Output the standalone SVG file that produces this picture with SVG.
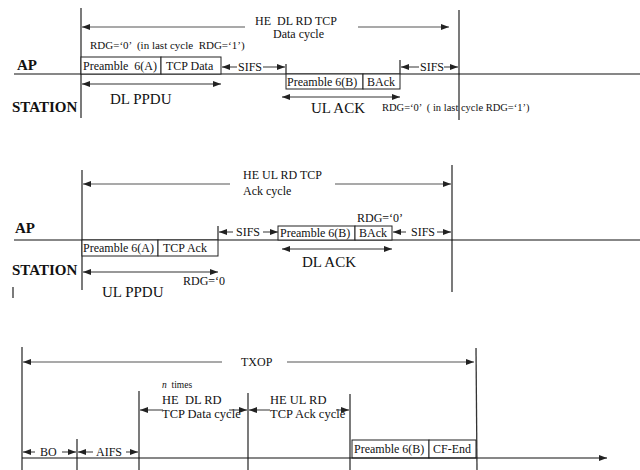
<svg xmlns="http://www.w3.org/2000/svg" width="640" height="470" viewBox="0 0 640 470" font-family="'Liberation Serif','Times New Roman',serif">
<style>
text{font-family:"Liberation Serif","Times New Roman",serif;fill:#111;white-space:pre}
.s{font-size:12px}
.xs{font-size:11px}
.m{font-size:15px}
.b{font-size:15px;font-weight:bold}
.box{fill:#fff;stroke:#222;stroke-width:1}
.v{stroke:#333;stroke-width:1.3;fill:none}
.h{stroke:#111;stroke-width:1.2;fill:none}
.a{stroke:#555;stroke-width:1.2;fill:none;marker-end:url(#ah)}
.d{stroke:#333;stroke-width:1.2;fill:none;marker-start:url(#ah);marker-end:url(#ah)}
</style>
<defs>
<marker id="ah" viewBox="0 0 8 6" refX="8" refY="3" markerWidth="8" markerHeight="6" orient="auto-start-reverse" markerUnits="userSpaceOnUse"><path d="M0,0 L8,3 L0,6 z" fill="#222"/></marker>
</defs>
<rect width="640" height="470" fill="#fff"/>

<!-- ===== Section 1: HE DL RD TCP Data cycle ===== -->
<g id="dl-cycle-frame">
<line class="v" x1="81" y1="8" x2="81" y2="118"/>
<line class="v" x1="459" y1="10" x2="459" y2="120"/>
<line class="h" x1="14" y1="74" x2="640" y2="74"/>
<line class="v" x1="286" y1="64" x2="286" y2="74"/>
<line class="v" x1="400" y1="60" x2="400" y2="74"/>
</g>
<g id="dl-labels">
<text class="s" x="255" y="25">HE  DL RD TCP</text>
<text class="s" x="273" y="38">Data cycle</text>
<text class="xs" x="90" y="49">RDG=‘0’  (in last cycle  RDG=‘1’)</text>
<text class="b" x="17" y="70">AP</text>
<text class="b" x="12" y="112">STATION</text>
<text class="m" x="110" y="104">DL PPDU</text>
<text class="m" x="311" y="113">UL ACK</text>
<text style="font-size:10.5px" x="382" y="111">RDG=‘0’  ( in last cycle RDG=‘1’)</text>
</g>
<g id="dl-preamble-a"><rect class="box" x="81" y="57" width="80" height="17"/><text class="s" x="83" y="70">Preamble  6(A)</text></g>
<g id="dl-tcp-data"><rect class="box" x="161" y="57" width="60" height="17"/><text class="s" x="166" y="70">TCP Data</text></g>
<g id="dl-preamble-b"><rect class="box" x="286" y="74" width="77" height="15"/><text class="s" x="287" y="86">Preamble 6(B)</text></g>
<g id="dl-back"><rect class="box" x="363" y="74" width="37" height="15"/><text class="s" x="367" y="86">BAck</text></g>
<g id="dl-sifs1"><text class="s" x="238" y="71">SIFS</text></g>
<g id="dl-sifs2"><text class="s" x="420" y="71">SIFS</text></g>

<!-- ===== Section 2: HE UL RD TCP Ack cycle ===== -->
<g id="ul-cycle-frame">
<line class="v" x1="82" y1="170" x2="82" y2="290"/>
<line class="v" x1="452" y1="165" x2="452" y2="292"/>
<line class="h" x1="14" y1="240" x2="640" y2="240"/>
<line class="v" x1="218" y1="226" x2="218" y2="240"/>
<line class="v" x1="13" y1="287" x2="13" y2="298"/>
</g>
<g id="ul-labels">
<text class="s" x="243" y="179">HE UL RD TCP</text>
<text class="s" x="243" y="195">Ack cycle</text>
<text class="b" x="15" y="233">AP</text>
<text class="b" x="12" y="275">STATION</text>
<text class="s" x="357" y="222">RDG=‘0’</text>
<text class="m" x="302" y="267">DL ACK</text>
<text class="s" x="183" y="285">RDG=‘0</text>
<text class="m" x="102" y="297">UL PPDU</text>
</g>
<g id="ul-preamble-a"><rect class="box" x="82" y="240" width="76" height="16"/><text class="s" x="83" y="252">Preamble 6(A)</text></g>
<g id="ul-tcp-ack"><rect class="box" x="158" y="240" width="60" height="16"/><text class="s" x="163" y="252">TCP Ack</text></g>
<g id="ul-preamble-b"><rect class="box" x="278" y="226" width="77" height="14"/><text class="s" x="280" y="237">Preamble 6(B)</text></g>
<g id="ul-back"><rect class="box" x="355" y="226" width="37" height="14"/><text class="s" x="359" y="237">BAck</text></g>
<g id="ul-sifs1"><text class="s" x="236" y="236">SIFS</text></g>
<g id="ul-sifs2"><text class="s" x="411" y="236">SIFS</text></g>

<!-- ===== Section 3: TXOP ===== -->
<g id="txop-frame">
<line class="v" x1="22" y1="347" x2="22" y2="470"/>
<line class="v" x1="476" y1="348" x2="477" y2="470"/>
<line class="v" x1="139" y1="391" x2="139" y2="470"/>
<line class="v" x1="248" y1="393" x2="248" y2="470"/>
<line class="v" x1="350" y1="394" x2="350" y2="470"/>
<line class="v" x1="77" y1="439" x2="77" y2="470"/>
</g>
<g id="txop-labels">
<text class="s" x="241" y="366">TXOP</text>
<text style="font-size:9.5px" x="162" y="388"><tspan font-style="italic">n</tspan>  times</text>
<text style="font-size:12.5px" x="162" y="404">HE  DL RD</text>
<text style="font-size:12.5px" x="162" y="418">TCP Data cycle</text>
<text style="font-size:12.5px" x="270" y="404">HE UL RD</text>
<text style="font-size:12.5px" x="270" y="418">TCP Ack cycle</text>
<text class="s" x="40" y="456">BO</text>
<text class="s" x="96" y="456">AIFS</text>
</g>
<g id="txop-preamble-b"><rect class="box" x="352" y="440" width="77" height="18"/><text class="s" x="354" y="453">Preamble 6(B)</text></g>
<g id="txop-cf-end"><rect class="box" x="429" y="440" width="47" height="18"/><text class="s" x="433" y="453">CF-End</text></g>

<!-- ===== Connectors ===== -->
<g id="connectors">
<line class="a" x1="245" y1="27" x2="82" y2="27"/>
<line class="a" x1="358" y1="27" x2="449" y2="27"/>
<line class="a" x1="237" y1="67" x2="222" y2="67"/>
<line class="a" x1="263" y1="67" x2="285" y2="67"/>
<line class="a" x1="419" y1="67" x2="401" y2="67"/>
<line class="a" x1="444" y1="67" x2="458" y2="67"/>
<line class="d" x1="82" y1="84" x2="221" y2="84"/>
<line class="d" x1="282" y1="97" x2="400" y2="97"/>

<line class="a" x1="230" y1="184" x2="83" y2="184"/>
<line class="a" x1="335" y1="184" x2="451" y2="184"/>
<line class="a" x1="233" y1="232" x2="219" y2="232"/>
<line class="a" x1="263" y1="232" x2="278" y2="232"/>
<line class="a" x1="406" y1="232" x2="393" y2="232"/>
<line class="a" x1="437" y1="232" x2="451" y2="232"/>
<line class="d" x1="282" y1="249" x2="392" y2="249"/>
<line class="d" x1="83" y1="272" x2="218" y2="272"/>

<line class="a" x1="222" y1="362" x2="23" y2="362"/>
<line class="a" x1="287" y1="362" x2="474" y2="362"/>
<line class="a" x1="163" y1="410" x2="140" y2="410"/>
<line class="a" x1="229" y1="410" x2="247" y2="410"/>
<line class="a" x1="270" y1="410" x2="249" y2="410"/>
<line class="a" x1="336" y1="410" x2="349" y2="410"/>
<line class="a" x1="35" y1="452" x2="23" y2="452"/>
<line class="a" x1="62" y1="452" x2="76" y2="452"/>
<line class="a" x1="93" y1="452" x2="78" y2="452"/>
<line class="a" x1="126" y1="452" x2="138" y2="452"/>
<line class="h" x1="22" y1="458" x2="607" y2="458" style="marker-end:url(#ah)"/>
</g>
</svg>
